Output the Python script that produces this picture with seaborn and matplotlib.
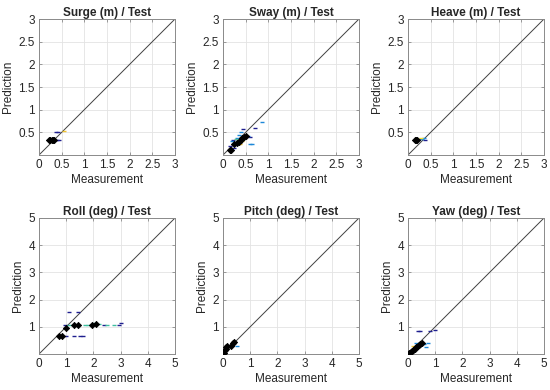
import pandas as pd
import seaborn as sns
import matplotlib.pyplot as plt

# panel titles and axis limits
titles = ["Surge (m) / Test", "Sway (m) / Test", "Heave (m) / Test",
          "Roll (deg) / Test", "Pitch (deg) / Test", "Yaw (deg) / Test"]
limits = [3, 3, 3, 5, 5, 5]

# black = main result, others = individual runs
surge_black_x = [0.22, 0.25, 0.28, 0.30, 0.32]
surge_black_y = [0.32, 0.33, 0.32, 0.33, 0.32]
surge_navy_x = [0.38, 0.42, 0.36, 0.40, 0.45]
surge_navy_y = [0.50, 0.50, 0.32, 0.32, 0.32]
surge_yellow_x = [0.55]
surge_yellow_y = [0.52]

sway_black_x = [0.15, 0.17, 0.25, 0.30, 0.35, 0.40, 0.43, 0.47, 0.50]
sway_black_y = [0.12, 0.10, 0.24, 0.26, 0.28, 0.32, 0.38, 0.40, 0.42]
sway_navy_x = [0.15, 0.45, 0.25, 0.60, 0.70, 0.22]
sway_navy_y = [0.20, 0.58, 0.15, 0.40, 0.60, 0.32]
sway_blue_x = [0.35, 0.40, 0.60, 0.65, 0.85, 0.20, 0.30, 0.55]
sway_blue_y = [0.45, 0.50, 0.25, 0.25, 0.72, 0.30, 0.38, 0.42]
sway_green_x = [0.28, 0.33, 0.45]
sway_green_y = [0.35, 0.30, 0.36]
sway_yellow_x = [0.38, 0.42]
sway_yellow_y = [0.25, 0.30]

heave_black_x = [0.15, 0.18, 0.20]
heave_black_y = [0.32, 0.33, 0.32]
heave_navy_x = [0.25, 0.38]
heave_navy_y = [0.36, 0.34]
heave_blue_x = [0.30, 0.35]
heave_blue_y = [0.35, 0.37]
heave_yellow_x = [0.28]
heave_yellow_y = [0.38]

roll_black_x = [0.75, 0.85, 1.00, 1.30, 1.45, 1.95, 2.10]
roll_black_y = [0.65, 0.65, 0.97, 1.05, 1.05, 1.08, 1.10]
roll_navy_x = [1.10, 1.45, 1.30, 1.50, 1.60, 1.00, 2.40, 3.00, 2.95, 0.95]
roll_navy_y = [1.55, 1.55, 0.65, 0.65, 0.65, 0.65, 1.05, 1.15, 1.05, 1.05]
roll_green_x = [1.10, 1.70, 2.20, 2.50, 2.75, 1.80, 2.05]
roll_green_y = [1.05, 1.05, 1.10, 1.05, 1.05, 1.08, 1.15]

pitch_black_x = [0.05, 0.08, 0.10, 0.12, 0.15, 0.30, 0.35, 0.40]
pitch_black_y = [0.05, 0.15, 0.20, 0.25, 0.30, 0.30, 0.40, 0.45]
pitch_blue_x = [0.50]
pitch_blue_y = [0.28]

yaw_black_x = [0.05, 0.10, 0.15, 0.20, 0.25, 0.30, 0.35, 0.40, 0.45, 0.50]
yaw_black_y = [0.05, 0.08, 0.12, 0.15, 0.20, 0.25, 0.28, 0.32, 0.38, 0.42]
yaw_navy_x = [0.35, 0.45, 0.80, 1.00]
yaw_navy_y = [0.85, 0.85, 0.85, 0.88]
yaw_blue_x = [0.60, 0.75, 0.65, 0.30]
yaw_blue_y = [0.35, 0.40, 0.25, 0.42]
yaw_yellow_x = [0.20]
yaw_yellow_y = [0.30]

panels = [
    [(surge_navy_x, surge_navy_y, "#1f1f8f"), (surge_yellow_x, surge_yellow_y, "#f2c530"),
     (surge_black_x, surge_black_y, "black")],
    [(sway_navy_x, sway_navy_y, "#1f1f8f"), (sway_blue_x, sway_blue_y, "#1e88d8"),
     (sway_green_x, sway_green_y, "#5fbf8a"), (sway_yellow_x, sway_yellow_y, "#f2c530"),
     (sway_black_x, sway_black_y, "black")],
    [(heave_navy_x, heave_navy_y, "#1f1f8f"), (heave_blue_x, heave_blue_y, "#1e88d8"),
     (heave_yellow_x, heave_yellow_y, "#f2e030"), (heave_black_x, heave_black_y, "black")],
    [(roll_navy_x, roll_navy_y, "#1f1f8f"), (roll_green_x, roll_green_y, "#3fbfa0"),
     (roll_black_x, roll_black_y, "black")],
    [(pitch_blue_x, pitch_blue_y, "#1e88d8"), (pitch_black_x, pitch_black_y, "black")],
    [(yaw_navy_x, yaw_navy_y, "#1f1f8f"), (yaw_blue_x, yaw_blue_y, "#1e88d8"),
     (yaw_yellow_x, yaw_yellow_y, "#f2c530"), (yaw_black_x, yaw_black_y, "black")],
]

sns.set_theme(style="whitegrid")
plt.rcParams['font.family'] = ['Liberation Sans', 'DejaVu Sans']

fig = plt.figure(figsize=(5.5, 3.9), dpi=100)
lefts = [39, 223, 408]
tops = [19, 218]
W, H = 550, 390
for k in range(6):
    r, c = divmod(k, 3)
    ax = fig.add_axes([lefts[c] / W, 1 - (tops[r] + 136) / H, 136 / W, 136 / H])
    lim = limits[k]
    for xs, ys, col in panels[k]:
        df = pd.DataFrame({"x": xs, "y": ys})
        if col == "black":
            sns.scatterplot(data=df, x="x", y="y", ax=ax, color="black", marker="D",
                            s=10, edgecolor="black", linewidth=0.6, zorder=4)
        else:
            sns.scatterplot(data=df, x="x", y="y", ax=ax, color=col, marker="_",
                            s=6, linewidth=1.0, zorder=3)
    ax.plot([0, lim], [0, lim], color="#404040", lw=0.7, zorder=2)
    ax.set_xlim(0, lim)
    ax.set_ylim(0, lim)
    if lim == 3:
        ax.set_xticks([0, 0.5, 1, 1.5, 2, 2.5, 3])
        ax.set_xticklabels(["0", "0.5", "1", "1.5", "2", "2.5", "3"])
        ax.set_yticks([0.5, 1, 1.5, 2, 2.5, 3])
        ax.set_yticklabels(["0.5", "1", "1.5", "2", "2.5", "3"])
    else:
        ax.set_xticks([0, 1, 2, 3, 4, 5])
        ax.set_yticks([1, 2, 3, 4, 5])
    ax.grid(True, color="#e3e3e3", lw=0.6)
    for sp in ax.spines.values():
        sp.set_color("#8a8a8a")
        sp.set_linewidth(0.7)
    ax.tick_params(labelsize=8.5, labelcolor="#262626", color="#8a8a8a",
                   direction="in", length=2, width=0.6, pad=3,
                   bottom=True, left=True, top=True, right=True)
    ax.set_title(titles[k], fontsize=8.5, fontweight="bold", pad=2)
    ax.set_xlabel("Measurement", fontsize=8.5, color="#262626", labelpad=2)
    ax.set_ylabel("Prediction", fontsize=8.5, color="#262626", labelpad=3)

fig.savefig("out.png", dpi=100)
